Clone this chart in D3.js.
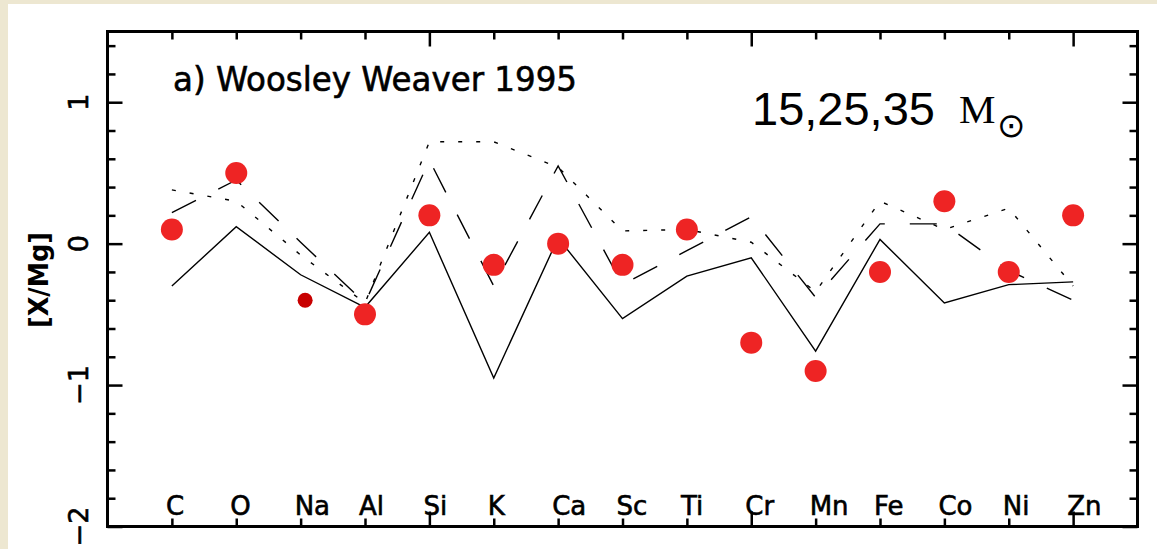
<!DOCTYPE html>
<html>
<head>
<meta charset="utf-8">
<script src="https://cdn.jsdelivr.net/npm/d3@7"></script>
<style>
  body { margin: 0; background: #ede7d1; overflow: hidden; }
  svg { display: block; }
</style>
</head>
<body>
<script>
// Data
const elements = ["C", "O", "Na", "Al", "Si", "K", "Ca", "Sc", "Ti", "Cr", "Mn", "Fe", "Co", "Ni", "Zn"];
const observed = [0.1, 0.5, null, -0.5, 0.2, -0.15, 0, -0.15, 0.1, -0.7, -0.9, -0.2, 0.3, -0.2, 0.2];
const naPoint = [3.07, -0.4];
const model15 = [-0.3, 0.12, -0.22, -0.45, 0.08, -0.95, 0.04, -0.53, -0.23, -0.1, -0.76, 0.03, -0.42, -0.29, -0.27];
const model25 = [0.22, 0.45, 0.01, -0.42, 0.59, -0.3, 0.55, -0.29, -0.05, 0.19, -0.38, 0.14, 0.14, -0.19, -0.4];
const model35 = [0.38, 0.3, -0.08, -0.42, 0.72, 0.72, 0.54, 0.09, 0.1, 0.01, -0.34, 0.3, 0.1, 0.25, -0.3];
const yLabels = [1, 0, -1, -2];

// Config Values
const WIDTH = 1157, HEIGHT = 549;
const LEFT = 107.5, RIGHT = 1137.5, TOP = 31.5, BOTTOM = 526.5;
const RED = "#ee2424";
const FONT = "DejaVu Sans, sans-serif";

const x = d3.scaleLinear().domain([0, 16]).range([LEFT, RIGHT]);
const y = d3.scaleLinear().domain([-2, 1.5]).range([BOTTOM, TOP]);

const svg = d3.select("body").append("svg")
  .attr("width", WIDTH)
  .attr("height", HEIGHT);

// white panel on the beige page
svg.append("rect")
  .attr("x", 8).attr("y", 4)
  .attr("width", WIDTH - 8).attr("height", HEIGHT - 4)
  .attr("fill", "#fff");

// Ticks (all pointing inward)
const xMajor = [5, 10, 15];
const xMinor = d3.range(1, 16).filter((v) => v % 5 !== 0);
const yAll = d3.range(-10, 8).map((i) => i / 5);
const yMajor = yAll.filter((v) => Math.abs(v - Math.round(v)) < 1e-6);
const yMinor = yAll.filter((v) => Math.abs(v - Math.round(v)) >= 1e-6);

const tickGroup = (axis, tx, ty) => {
  svg.append("g")
    .attr("transform", `translate(${tx},${ty})`)
    .call(axis.tickFormat(""))
    .call((g) => g.select(".domain").remove())
    .selectAll("line")
    .attr("stroke", "#000")
    .attr("stroke-width", 2.5);
};

tickGroup(d3.axisTop(x).tickValues(xMinor).tickSize(8), 0, BOTTOM);
tickGroup(d3.axisTop(x).tickValues(xMajor).tickSize(15), 0, BOTTOM);
tickGroup(d3.axisBottom(x).tickValues(xMinor).tickSize(8), 0, TOP);
tickGroup(d3.axisBottom(x).tickValues(xMajor).tickSize(15), 0, TOP);
tickGroup(d3.axisRight(y).tickValues(yMinor).tickSize(8), LEFT, 0);
tickGroup(d3.axisRight(y).tickValues(yMajor).tickSize(15), LEFT, 0);
tickGroup(d3.axisLeft(y).tickValues(yMinor).tickSize(8), RIGHT, 0);
tickGroup(d3.axisLeft(y).tickValues(yMajor).tickSize(15), RIGHT, 0);

// Model lines
const line = d3.line()
  .x((d, i) => x(i + 1))
  .y((d) => y(d));

const drawModel = (values, dash) => {
  svg.append("path")
    .datum(values)
    .attr("d", line)
    .attr("fill", "none")
    .attr("stroke", "#000")
    .attr("stroke-width", 1.4)
    .attr("stroke-dasharray", dash);
};

drawModel(model15, null);
drawModel(model25, "27,25");
drawModel(model35, "4,14");

// Observed points
svg.append("g")
  .selectAll("circle")
  .data(observed.map((v, i) => [i + 1, v]).filter((d) => d[1] !== null))
  .join("circle")
  .attr("cx", (d) => x(d[0]))
  .attr("cy", (d) => y(d[1]))
  .attr("r", 11)
  .attr("fill", RED);

svg.append("circle")
  .attr("cx", x(naPoint[0]))
  .attr("cy", y(naPoint[1]))
  .attr("r", 7.5)
  .attr("fill", "#c80000");

// Frame
svg.append("rect")
  .attr("x", LEFT).attr("y", TOP)
  .attr("width", RIGHT - LEFT).attr("height", BOTTOM - TOP)
  .attr("fill", "none")
  .attr("stroke", "#000")
  .attr("stroke-width", 3);

// Element labels along the bottom, inside the frame
svg.append("g")
  .selectAll("text")
  .data(elements)
  .join("text")
  .attr("x", (d, i) => x(i + 1) - 6)
  .attr("y", 515)
  .attr("font-family", FONT)
  .attr("font-size", 26)
  .attr("stroke", "#000")
  .attr("stroke-width", 0.6)
  .text((d) => d);

// Y tick labels, rotated
svg.append("g")
  .selectAll("text")
  .data(yLabels)
  .join("text")
  .attr("transform", (d) => `translate(88,${y(d)}) rotate(-90)`)
  .attr("text-anchor", "middle")
  .attr("font-family", FONT)
  .attr("font-size", 27)
  .attr("stroke", "#000")
  .attr("stroke-width", 0.6)
  .text((d) => (d < 0 ? "\u2212" + Math.abs(d) : d));

// Y axis title
svg.append("text")
  .attr("transform", "translate(48,280) rotate(-90)")
  .attr("text-anchor", "middle")
  .attr("font-family", FONT)
  .attr("font-weight", "bold")
  .attr("font-size", 27)
  .attr("textLength", 96)
  .attr("lengthAdjust", "spacingAndGlyphs")
  .text("[X/Mg]");

// Panel title
svg.append("text")
  .attr("x", 173)
  .attr("y", 91)
  .attr("font-family", FONT)
  .attr("font-size", 33)
  .attr("stroke", "#000")
  .attr("stroke-width", 0.6)
  .attr("textLength", 404)
  .attr("lengthAdjust", "spacingAndGlyphs")
  .text("a) Woosley Weaver 1995");

// Mass annotation
svg.append("text")
  .attr("x", 752)
  .attr("y", 125)
  .attr("font-family", "Liberation Sans, Arial, sans-serif")
  .attr("font-size", 47)
  .text("15,25,35");
svg.append("text")
  .attr("x", 959)
  .attr("y", 123)
  .attr("font-family", "Liberation Serif, Times New Roman, serif")
  .attr("font-size", 41)
  .text("M");
svg.append("text")
  .attr("x", 997)
  .attr("y", 137)
  .attr("font-family", FONT)
  .attr("font-size", 34)
  .text("\u2299");
</script>
</body>
</html>
